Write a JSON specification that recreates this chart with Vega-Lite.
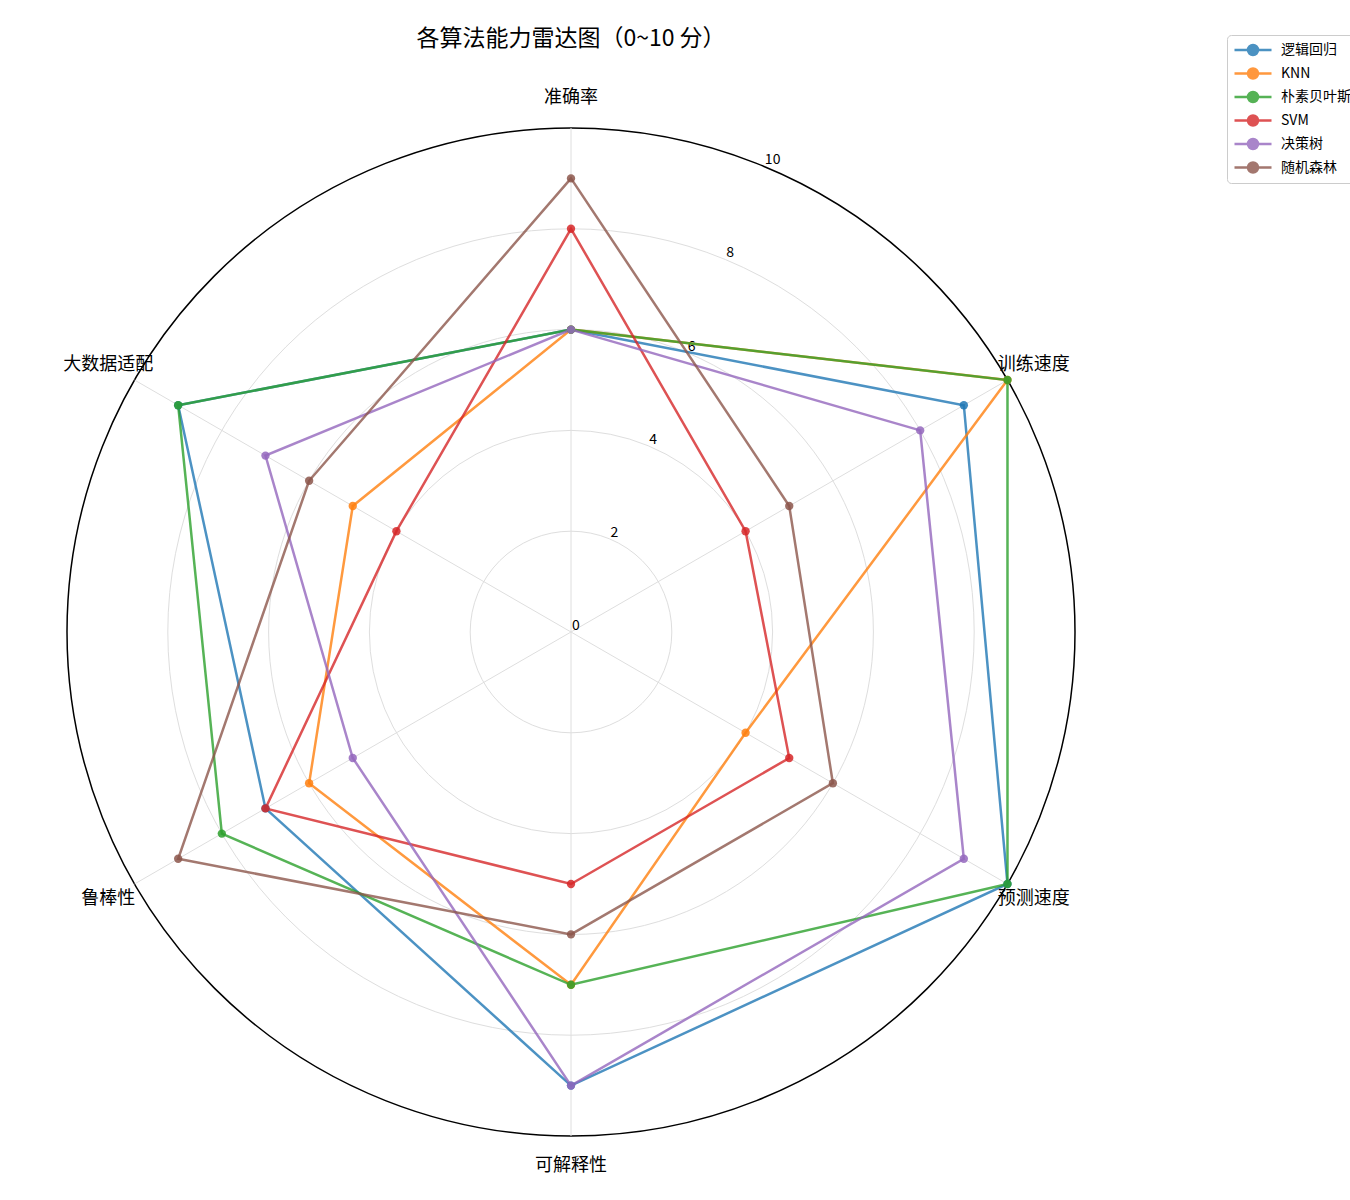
{
  "$schema": "https://vega.github.io/schema/vega-lite/v6.json",
  "width": 1008,
  "height": 1008,
  "autosize": {"type": "none"},
  "padding": {"left": 67, "top": 128, "right": 275, "bottom": 64},
  "background": "white",
  "title": {"text": "各算法能力雷达图（0~10 分）", "fontSize": 23, "font": "Noto Sans CJK SC", "fontWeight": "normal", "anchor": "middle", "offset": -16, "color": "black"},
  "config": {"view": {"stroke": null}, "font": "Noto Sans CJK SC"},
  "datasets": {
    "scores": [
      {"algorithm": "逻辑回归", "metric": "准确率", "value": 6},
      {"algorithm": "逻辑回归", "metric": "训练速度", "value": 9},
      {"algorithm": "逻辑回归", "metric": "预测速度", "value": 10},
      {"algorithm": "逻辑回归", "metric": "可解释性", "value": 9},
      {"algorithm": "逻辑回归", "metric": "鲁棒性", "value": 7},
      {"algorithm": "逻辑回归", "metric": "大数据适配", "value": 9},
      {"algorithm": "KNN", "metric": "准确率", "value": 6},
      {"algorithm": "KNN", "metric": "训练速度", "value": 10},
      {"algorithm": "KNN", "metric": "预测速度", "value": 4},
      {"algorithm": "KNN", "metric": "可解释性", "value": 7},
      {"algorithm": "KNN", "metric": "鲁棒性", "value": 6},
      {"algorithm": "KNN", "metric": "大数据适配", "value": 5},
      {"algorithm": "朴素贝叶斯", "metric": "准确率", "value": 6},
      {"algorithm": "朴素贝叶斯", "metric": "训练速度", "value": 10},
      {"algorithm": "朴素贝叶斯", "metric": "预测速度", "value": 10},
      {"algorithm": "朴素贝叶斯", "metric": "可解释性", "value": 7},
      {"algorithm": "朴素贝叶斯", "metric": "鲁棒性", "value": 8},
      {"algorithm": "朴素贝叶斯", "metric": "大数据适配", "value": 9},
      {"algorithm": "SVM", "metric": "准确率", "value": 8},
      {"algorithm": "SVM", "metric": "训练速度", "value": 4},
      {"algorithm": "SVM", "metric": "预测速度", "value": 5},
      {"algorithm": "SVM", "metric": "可解释性", "value": 5},
      {"algorithm": "SVM", "metric": "鲁棒性", "value": 7},
      {"algorithm": "SVM", "metric": "大数据适配", "value": 4},
      {"algorithm": "决策树", "metric": "准确率", "value": 6},
      {"algorithm": "决策树", "metric": "训练速度", "value": 8},
      {"algorithm": "决策树", "metric": "预测速度", "value": 9},
      {"algorithm": "决策树", "metric": "可解释性", "value": 9},
      {"algorithm": "决策树", "metric": "鲁棒性", "value": 5},
      {"algorithm": "决策树", "metric": "大数据适配", "value": 7},
      {"algorithm": "随机森林", "metric": "准确率", "value": 9},
      {"algorithm": "随机森林", "metric": "训练速度", "value": 5},
      {"algorithm": "随机森林", "metric": "预测速度", "value": 6},
      {"algorithm": "随机森林", "metric": "可解释性", "value": 6},
      {"algorithm": "随机森林", "metric": "鲁棒性", "value": 9},
      {"algorithm": "随机森林", "metric": "大数据适配", "value": 6}
    ],
    "metrics": [
      {"metric": "准确率"},
      {"metric": "训练速度"},
      {"metric": "预测速度"},
      {"metric": "可解释性"},
      {"metric": "鲁棒性"},
      {"metric": "大数据适配"}
    ],
    "levels": [
      {"level": 0},
      {"level": 2},
      {"level": 4},
      {"level": 6},
      {"level": 8},
      {"level": 10}
    ]
  },
  "layer": [
    {
      "data": {"name": "levels"},
      "transform": [{"filter": "datum.level > 0"}],
      "mark": {"type": "point", "shape": "circle", "filled": false, "opacity": 1},
      "encoding": {
        "x": {"datum": 0, "type": "quantitative", "scale": {"domain": [-10, 10], "nice": false, "zero": false}, "axis": null},
        "y": {"datum": 0, "type": "quantitative", "scale": {"domain": [-10, 10], "nice": false, "zero": false}, "axis": null},
        "size": {"field": "level", "type": "quantitative", "scale": {"type": "pow", "exponent": 2, "domain": [0, 10], "range": [0, 1016064], "zero": true, "nice": false}, "legend": null},
        "stroke": {"condition": {"test": "datum.level == 10", "value": "black"}, "value": "#dedede"},
        "strokeWidth": {"condition": {"test": "datum.level == 10", "value": 1.5}, "value": 1}
      }
    },
    {
      "data": {"name": "metrics"},
      "transform": [
        {"calculate": "indexof(['准确率','训练速度','预测速度','可解释性','鲁棒性','大数据适配'], datum.metric)", "as": "idx"},
        {"calculate": "datum.idx * PI / 3", "as": "ang"},
        {"calculate": "10 * sin(datum.ang)", "as": "ex"},
        {"calculate": "10 * cos(datum.ang)", "as": "ey"}
      ],
      "mark": {"type": "rule", "color": "#dedede", "strokeWidth": 1},
      "encoding": {
        "x": {"field": "ex", "type": "quantitative", "scale": {"domain": [-10, 10], "nice": false, "zero": false}, "axis": null},
        "y": {"field": "ey", "type": "quantitative", "scale": {"domain": [-10, 10], "nice": false, "zero": false}, "axis": null},
        "x2": {"datum": 0},
        "y2": {"datum": 0}
      }
    },
    {
      "data": {"name": "levels"},
      "transform": [
        {"calculate": "datum.level * sin(PI / 8)", "as": "tx"},
        {"calculate": "datum.level * cos(PI / 8)", "as": "ty"}
      ],
      "mark": {"type": "text", "align": "left", "baseline": "alphabetic", "dx": 1, "dy": -2, "fontSize": 14, "color": "black"},
      "encoding": {
        "x": {"field": "tx", "type": "quantitative", "scale": {"domain": [-10, 10], "nice": false, "zero": false}, "axis": null},
        "y": {"field": "ty", "type": "quantitative", "scale": {"domain": [-10, 10], "nice": false, "zero": false}, "axis": null},
        "text": {"field": "level", "type": "quantitative", "format": "d"}
      }
    },
    {
      "data": {"name": "metrics"},
      "transform": [
        {"calculate": "indexof(['准确率','训练速度','预测速度','可解释性','鲁棒性','大数据适配'], datum.metric)", "as": "idx"},
        {"calculate": "datum.idx * PI / 3", "as": "ang"},
        {"calculate": "10.6 * sin(datum.ang)", "as": "lx"},
        {"calculate": "10.6 * cos(datum.ang)", "as": "ly"}
      ],
      "mark": {"type": "text", "align": "center", "baseline": "middle", "fontSize": 18, "color": "black"},
      "encoding": {
        "x": {"field": "lx", "type": "quantitative", "scale": {"domain": [-10, 10], "nice": false, "zero": false}, "axis": null},
        "y": {"field": "ly", "type": "quantitative", "scale": {"domain": [-10, 10], "nice": false, "zero": false}, "axis": null},
        "text": {"field": "metric"}
      }
    },
    {
      "data": {"name": "scores"},
      "transform": [
        {"calculate": "indexof(['准确率','训练速度','预测速度','可解释性','鲁棒性','大数据适配'], datum.metric)", "as": "idx"},
        {"calculate": "datum.idx * PI / 3", "as": "ang"},
        {"calculate": "datum.value * sin(datum.ang)", "as": "px"},
        {"calculate": "datum.value * cos(datum.ang)", "as": "py"}
      ],
      "layer": [
        {
          "mark": {"type": "line", "interpolate": "linear-closed", "strokeWidth": 2.5, "opacity": 0.8},
          "encoding": {
            "x": {"field": "px", "type": "quantitative", "scale": {"domain": [-10, 10], "nice": false, "zero": false}, "axis": null},
            "y": {"field": "py", "type": "quantitative", "scale": {"domain": [-10, 10], "nice": false, "zero": false}, "axis": null},
            "order": {"field": "idx", "type": "quantitative"},
            "color": {
              "field": "algorithm",
              "type": "nominal",
              "scale": {"domain": ["逻辑回归", "KNN", "朴素贝叶斯", "SVM", "决策树", "随机森林"], "range": ["#1f77b4", "#ff7f0e", "#2ca02c", "#d62728", "#9467bd", "#8c564b"]},
              "legend": {
                "orient": "none",
                "legendX": 1160,
                "legendY": -93,
                "title": null,
                "symbolType": "M-1,0L1,0M-0.27,0A0.27,0.27,0,1,1,0.27,0A0.27,0.27,0,1,1,-0.27,0",
                "symbolSize": 1369,
                "symbolStrokeWidth": 2.5,
                "symbolOpacity": 0.8,
                "clipHeight": 18,
                "rowPadding": 5.5,
                "labelOffset": 8,
                "labelFontSize": 14,
                "labelFont": "Noto Sans CJK SC",
                "labelColor": "black",
                "fillColor": "white",
                "strokeColor": "#cccccc",
                "cornerRadius": 4,
                "padding": 6,
                "encode": {"symbols": {"update": {"fill": {"scale": "color", "field": "value"}}}}
              }
            }
          }
        },
        {
          "mark": {"type": "circle", "size": 70, "opacity": 0.85},
          "encoding": {
            "x": {"field": "px", "type": "quantitative", "scale": {"domain": [-10, 10], "nice": false, "zero": false}, "axis": null},
            "y": {"field": "py", "type": "quantitative", "scale": {"domain": [-10, 10], "nice": false, "zero": false}, "axis": null},
            "color": {"field": "algorithm", "type": "nominal"}
          }
        }
      ]
    }
  ]
}
